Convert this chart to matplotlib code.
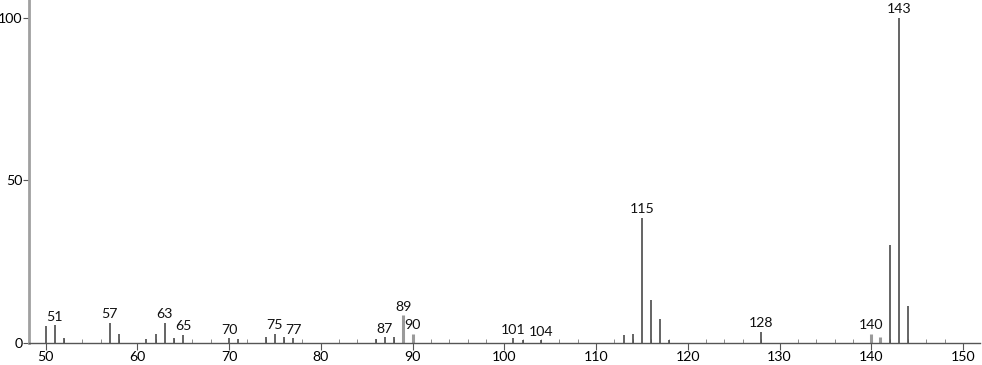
import matplotlib.pyplot as plt
from matplotlib.ticker import MultipleLocator

plt.rcParams['font.family'] = ['Lato', 'DejaVu Sans']

# peak positions (m/z) and relative intensities
mz = [50, 51, 52, 57, 58, 61, 62, 63, 64, 65, 70, 71, 74, 75, 76, 77,
      86, 87, 88, 101, 102, 104, 113, 114, 115, 116, 117, 118, 128,
      142, 143, 144]
intensity = [5.1, 5.4, 1.5, 6.3, 2.9, 1.3, 2.9, 6.3, 1.5, 2.5, 1.5, 1.2, 1.7, 2.8, 1.7, 1.5,
             1.3, 1.7, 1.7, 1.5, 1.0, 0.8, 2.6, 2.9, 38.5, 13.1, 7.4, 0.9, 3.4,
             30.2, 100.0, 11.3]

# peaks drawn in the lighter grey
mz_light = [89, 90, 140, 141]
intensity_light = [8.5, 2.9, 2.8, 1.8]

labelled = [51, 57, 63, 65, 70, 75, 77, 87, 89, 90, 101, 104, 115, 128, 140, 143]

fig = plt.figure(figsize=(9.82, 3.65), dpi=100)
ax = fig.add_axes([29 / 982, 22 / 365, 951 / 982, 343 / 365])

ax.vlines(mz, 0, intensity, color='#4a4a4a', linewidth=1.2)
ax.vlines(mz_light, 0, intensity_light, color='#9a9a9a', linewidth=2.2)

peaks = dict(zip(mz + mz_light, intensity + intensity_light))
for m in labelled:
    ax.text(m, peaks[m] + 0.8, str(m), ha='center', va='bottom', fontsize=10.2,
            color='#111111')

ax.set_xlim(48.2, 151.85)
ax.set_ylim(0, 105.5)
ax.set_xticks(range(50, 151, 10))
ax.xaxis.set_minor_locator(MultipleLocator(2))
ax.set_yticks([0, 50, 100])

for side in ['top', 'right']:
    ax.spines[side].set_visible(False)
ax.spines['left'].set_color('#a0a0a0')
ax.spines['left'].set_linewidth(2)
ax.spines['bottom'].set_color('#555555')
ax.spines['bottom'].set_linewidth(1)

ax.tick_params(axis='x', which='major', direction='out', length=5, color='#555555',
               labelsize=10.2, pad=1)
ax.tick_params(axis='x', which='minor', direction='in', length=3, color='#777777')
ax.tick_params(axis='y', direction='out', length=4, color='#555555', labelsize=10.2, pad=0.5)

fig.savefig('out.png', dpi=100)
